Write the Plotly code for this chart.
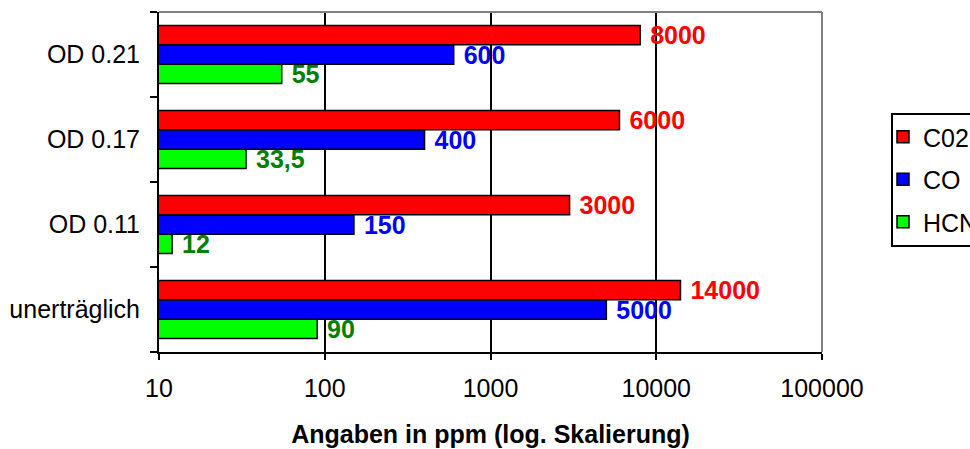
import plotly.graph_objects as go

# Gas concentrations at different smoke densities (ppm, log scale)
categories = ["unerträglich", "OD 0.11", "OD 0.17", "OD 0.21"]
co2_values = [14000, 3000, 6000, 8000]
co_values = [5000, 150, 400, 600]
hcn_values = [90, 12, 33.5, 55]

x_tick_values = [10, 100, 1000, 10000, 100000]
x_tick_labels = ["10", "100", "1000", "10000", "100000"]

FONT = "Liberation Sans, Arial, sans-serif"
FS = 25

# plot area in pixels, used to place the legend box in paper coordinates
PL, PR, PT, PB = 159, 822, 12, 352


def px_x(x):
    return (x - PL) / (PR - PL)


def px_y(y):
    return (PB - y) / (PB - PT)


def fmt(v):
    # German decimal comma, leading space keeps the label clear of the bar end
    return " " + f"{v:g}".replace(".", ",")


# order: bottom bar of each group first, so red ends up on top;
# the last field is the rank of the entry in the legend
series = [
    ("HCN", hcn_values, "#00FF00", "#008000", 3),
    ("CO", co_values, "#0000FF", "#0000FF", 2),
    ("C02", co2_values, "#FF0000", "#FF0000", 1),
]

fig = go.Figure()
for name, vals, fill, label_color, rank in series:
    fig.add_trace(go.Bar(
        name=name,
        y=categories,
        x=vals,
        orientation="h",
        marker=dict(color=fill, line=dict(color="black", width=1.5)),
        text=[fmt(v) for v in vals],
        textposition="outside",
        constraintext="none",
        cliponaxis=False,
        textfont=dict(family=FONT, size=FS, color=label_color, weight="bold"),
        legendgroup=name,
        legendrank=rank,
        hoverinfo="skip",
    ))

fig.update_layout(
    width=970,
    height=449,
    margin=dict(l=PL, r=970 - PR, t=PT, b=449 - PB, autoexpand=False),
    paper_bgcolor="white",
    plot_bgcolor="white",
    barmode="group",
    bargap=0.318,
    bargroupgap=0,
    font=dict(family=FONT, size=FS, color="black"),
    showlegend=True,
    legend=dict(
        x=px_x(883),
        y=px_y(114),
        xanchor="left",
        yanchor="top",
        traceorder="grouped",
        tracegroupgap=7,
        borderwidth=0,
        bgcolor="rgba(0,0,0,0)",
        font=dict(family=FONT, size=FS, color="black"),
    ),
    shapes=[
        # grey frame on top and right of the plot area
        dict(type="line", xref="paper", yref="paper", x0=0, x1=1, y0=1, y1=1,
             line=dict(color="#808080", width=2), layer="above"),
        dict(type="line", xref="paper", yref="paper", x0=1, x1=1, y0=0, y1=1,
             line=dict(color="#808080", width=2), layer="above"),
        # legend frame
        dict(type="rect", xref="paper", yref="paper",
             x0=px_x(892), x1=px_x(990), y0=px_y(246), y1=px_y(114),
             line=dict(color="black", width=2), fillcolor="rgba(0,0,0,0)"),
    ],
)

fig.update_xaxes(
    type="log",
    range=[1, 5],
    tickvals=x_tick_values,
    ticktext=x_tick_labels,
    ticks="outside",
    ticklen=6,
    tickwidth=2,
    tickcolor="black",
    showline=True,
    linecolor="black",
    linewidth=2,
    showgrid=True,
    gridcolor="black",
    gridwidth=1.5,
    zeroline=False,
    ticklabelstandoff=7,
    tickfont=dict(family=FONT, size=FS, color="black"),
    title=dict(text="<b>Angaben in ppm (log. Skalierung)</b>",
               font=dict(family=FONT, size=FS, color="black"), standoff=24),
)

fig.update_yaxes(
    type="category",
    categoryorder="array",
    categoryarray=categories,
    tickson="boundaries",
    ticks="outside",
    ticklen=7,
    tickwidth=2,
    tickcolor="black",
    showline=True,
    linecolor="black",
    linewidth=2,
    showgrid=False,
    zeroline=False,
    ticklabelstandoff=12,
    tickfont=dict(family=FONT, size=FS, color="black"),
)

fig.write_html("out.html")
